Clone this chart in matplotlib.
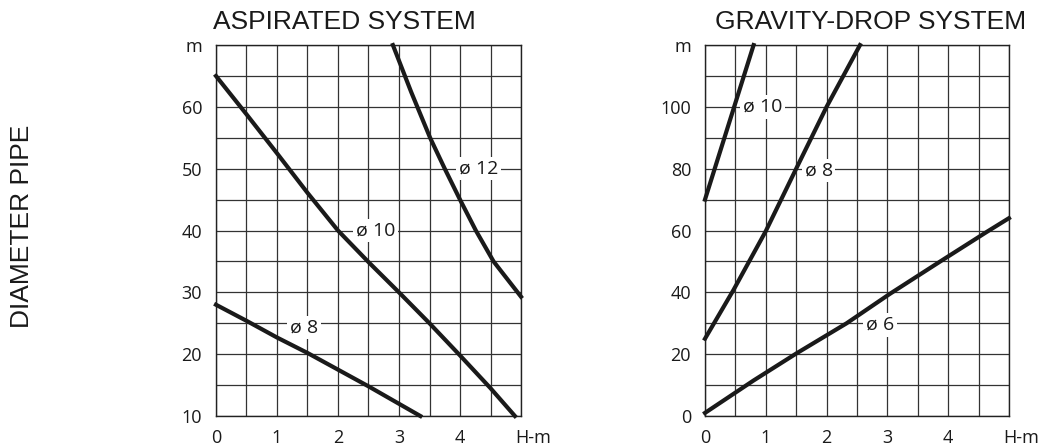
import numpy as np
import matplotlib.pyplot as plt

# ---- данные ----
# ASPIRATED SYSTEM
asp_d8_h = [0, 0.5, 1.0, 1.5, 2.5, 3.35]
asp_d8_m = [28, 25.4, 22.7, 20.2, 14.8, 10]
asp_d10_h = [0, 0.5, 1.0, 1.5, 2.0, 2.5, 3.0, 3.5, 4.0, 4.5, 4.9]
asp_d10_m = [65, 58.8, 52.5, 46.1, 40, 34.9, 30, 25, 19.8, 14.5, 10]
asp_d12_h = [2.9, 3.2, 3.51, 3.75, 4.0, 4.26, 4.55, 5.0]
asp_d12_m = [70, 62.4, 55, 50, 45, 40, 35, 29.3]

# GRAVITY-DROP SYSTEM
grav_d6_h = [0, 0.8, 1.5, 2.33, 3.04, 3.87, 4.63, 5.0]
grav_d6_m = [1, 11.5, 20.2, 30, 39.5, 50, 59.5, 64]
grav_d8_h = [0, 0.47, 1.0, 1.5, 2.0, 2.55]
grav_d8_m = [25, 40.8, 59.8, 80, 100, 120]
grav_d10_h = [0, 0.8]
grav_d10_m = [70, 120]

x_ticks = [0, 1, 2, 3, 4]
x_labels = ['0', '1', '2', '3', '4']
x_unit = 'H-m'
asp_y_ticks = [10, 20, 30, 40, 50, 60, 70]
asp_y_labels = ['10', '20', '30', '40', '50', '60', 'm']
grav_y_ticks = [0, 20, 40, 60, 80, 100, 120]
grav_y_labels = ['0', '20', '40', '60', '80', '100', 'm']

TICK_FONT = 'Open Sans'
TITLE_FONT = 'Liberation Sans'
INK = '#1a1a1a'

fig = plt.figure(figsize=(10.5, 4.48), dpi=100)
ax1 = fig.add_axes([0.2057, 0.0714, 0.2905, 0.828])
ax2 = fig.add_axes([0.6714, 0.0714, 0.2895, 0.828])


def setup(ax, ylim, yticks, ylabels, ystep):
    ax.set_xlim(0, 5)
    ax.set_ylim(*ylim)
    ax.set_xticks(x_ticks)
    ax.set_xticklabels(x_labels, fontfamily=TICK_FONT, fontsize=13, color=INK)
    ax.set_xticks(np.arange(0, 5.01, 0.5), minor=True)
    ax.set_yticks(yticks)
    ax.set_yticklabels(ylabels, fontfamily=TICK_FONT, fontsize=13, color=INK)
    ax.set_yticks(np.arange(ylim[0], ylim[1] + 0.01, ystep), minor=True)
    ax.tick_params(which='both', length=0)
    ax.tick_params(axis='x', pad=9)
    ax.tick_params(axis='y', pad=10)
    ax.grid(True, which='both', color='#333333', linewidth=0.9, zorder=1)
    ax.set_axisbelow(True)
    for s in ax.spines.values():
        s.set_color('#222222')
        s.set_linewidth(1.0)
    # подпись единицы по оси X
    ax.annotate(x_unit, xy=(5, 0), xycoords=('data', 'axes fraction'),
                xytext=(-4, -9), textcoords='offset points',
                ha='left', va='top', fontfamily=TICK_FONT, fontsize=13,
                color=INK, annotation_clip=False)


def label(ax, x, y, txt):
    ax.text(x, y, txt, fontfamily=TICK_FONT, fontsize=14, color=INK,
            ha='center', va='center', zorder=3,
            bbox=dict(facecolor='white', edgecolor='none', pad=2))


setup(ax1, (10, 70), asp_y_ticks, asp_y_labels, 5)
setup(ax2, (0, 120), grav_y_ticks, grav_y_labels, 10)

lw = 3.0
ax1.plot(asp_d8_h, asp_d8_m, color=INK, lw=lw, zorder=4, clip_on=False)
ax1.plot(asp_d10_h, asp_d10_m, color=INK, lw=lw, zorder=4, clip_on=False)
ax1.plot(asp_d12_h, asp_d12_m, color=INK, lw=lw, zorder=4, clip_on=False)
label(ax1, 1.44, 24.3, 'ø 8')
label(ax1, 2.62, 40, 'ø 10')
label(ax1, 4.3, 50, 'ø 12')

ax2.plot(grav_d6_h, grav_d6_m, color=INK, lw=lw, zorder=4, clip_on=False)
ax2.plot(grav_d8_h, grav_d8_m, color=INK, lw=lw, zorder=4, clip_on=False)
ax2.plot(grav_d10_h, grav_d10_m, color=INK, lw=lw, zorder=4, clip_on=False)
label(ax2, 0.95, 100, 'ø 10')
label(ax2, 1.87, 79.5, 'ø 8')
label(ax2, 2.88, 29.5, 'ø 6')

fig.text(0.3276, 0.935, 'ASPIRATED SYSTEM', fontfamily=TITLE_FONT,
         fontsize=19, color=INK, ha='center', va='baseline')
fig.text(0.8295, 0.935, 'GRAVITY-DROP SYSTEM', fontfamily=TITLE_FONT,
         fontsize=19, color=INK, ha='center', va='baseline')
fig.text(0.021, 0.4955, 'DIAMETER PIPE', fontfamily=TITLE_FONT,
         fontsize=19, color=INK, ha='center', va='center', rotation=90)

fig.savefig('out.png', dpi=100)
